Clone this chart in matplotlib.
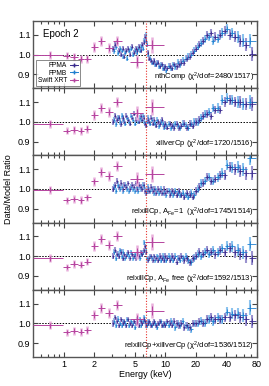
import matplotlib
matplotlib.use("Agg")
import matplotlib.pyplot as plt
from matplotlib.lines import Line2D
from matplotlib.ticker import FixedLocator, NullFormatter, FixedFormatter
import numpy as np

plt.rcParams['font.family'] = ['Liberation Sans', 'DejaVu Sans']
plt.rcParams['mathtext.fontset'] = 'custom'
plt.rcParams['mathtext.rm'] = 'Liberation Sans'
plt.rcParams['mathtext.it'] = 'Liberation Sans:italic'

# ---------------- data ----------------
model_labels = [
    "nthComp (\u03c7$^2$/dof=2480/1517)",
    "xillverCp (\u03c7$^2$/dof=1720/1516)",
    "relxillCp, A$_{\\rm Fe}$=1  (\u03c7$^2$/dof=1745/1514)",
    "relxillCp, A$_{\\rm Fe}$ free (\u03c7$^2$/dof=1592/1513)",
    "relxillCp+xillverCp (\u03c7$^2$/dof=1536/1512)",
]

# Swift XRT bins (keV)
xrt_lo = [0.50, 0.98, 1.15, 1.37, 1.58, 1.85, 2.15, 2.55, 3.05, 4.50, 6.30]
xrt_hi = [0.97, 1.15, 1.37, 1.58, 1.85, 2.15, 2.55, 3.05, 3.70, 6.00, 9.80]
xrt_e = [0.73, 1.07, 1.26, 1.47, 1.70, 1.98, 2.30, 2.80, 3.35, 5.20, 7.40]
xrt_err = [0.02, 0.018, 0.02, 0.02, 0.02, 0.025, 0.025, 0.025, 0.025, 0.035, 0.04]
xrt_ratio = [
    [1.00, 0.995, 0.99, 0.98, 0.98, 1.04, 1.07, 1.033, 1.067, 0.965, 1.05],
    [0.99, 0.955, 0.96, 0.955, 0.965, 1.035, 1.07, 1.05, 1.10, 1.045, 1.075],
    [0.996, 0.943, 0.95, 0.943, 0.957, 1.038, 1.086, 1.065, 1.115, 1.05, 1.077],
    [0.99, 0.945, 0.962, 0.958, 0.973, 1.05, 1.087, 1.058, 1.10, 1.02, 1.072],
    [0.99, 0.955, 0.963, 0.958, 0.965, 1.042, 1.079, 1.053, 1.095, 1.02, 1.065],
]

# NuSTAR FPMA energies (keV)
fpma_e = [3.05, 3.2, 3.35, 3.5, 3.65, 3.8, 3.95, 4.1, 4.3, 4.5, 4.7, 4.9, 5.1, 5.3, 5.5,
          5.7, 5.9, 6.1, 6.3, 6.5, 6.7, 6.95, 7.2, 7.5, 7.8, 8.1, 8.45, 8.8, 9.2, 9.6,
          10.0, 10.5, 11.0, 11.6, 12.2, 12.9, 13.6, 14.4, 15.3, 16.3, 17.4, 18.6,
          20.0, 21.6, 23.4, 25.5, 28.0, 31.0, 34.5, 38.5, 43.0, 48.5, 55.0, 63.0, 72.0]
fpma_err = [0.016, 0.015, 0.015, 0.014, 0.014, 0.014, 0.013, 0.013, 0.013, 0.013, 0.013, 0.013,
            0.013, 0.013, 0.013, 0.013, 0.013, 0.013, 0.013, 0.013, 0.013, 0.013, 0.013, 0.013,
            0.013, 0.013, 0.014, 0.014, 0.014, 0.014,
            0.014, 0.014, 0.015, 0.015, 0.015, 0.016, 0.016, 0.016, 0.017, 0.017, 0.018, 0.018,
            0.019, 0.019, 0.02, 0.02, 0.021, 0.022, 0.022, 0.024, 0.025, 0.027, 0.03, 0.032, 0.035]
fpma_ratio = [
    [1.03, 1.05, 1.06, 1.02, 1.00, 1.03, 0.99, 1.02, 1.03, 1.00, 1.04, 1.01, 1.03, 1.02, 1.04,
     1.02, 1.05, 1.06, 1.09, 1.07, 1.01, 0.98, 0.97, 0.96, 0.97, 0.95, 0.96, 0.94, 0.95, 0.93,
     0.94, 0.93, 0.94, 0.93, 0.95, 0.94, 0.95, 0.96, 0.96, 0.98, 0.99, 1.01,
     1.03, 1.05, 1.07, 1.10, 1.11, 1.09, 1.10, 1.12, 1.10, 1.09, 1.07, 1.05, 1.005],
    [1.00, 1.03, 1.01, 1.02, 0.99, 1.02, 1.00, 1.03, 1.01, 0.99, 1.02, 1.04, 1.01, 1.02, 1.00,
     1.03, 1.01, 1.02, 0.99, 0.98, 1.01, 1.00, 1.02, 0.99, 1.01, 0.98, 1.00, 0.99, 1.01, 0.98,
     0.99, 0.97, 0.99, 0.98, 0.97, 0.99, 0.97, 0.98, 0.99, 0.97, 0.99, 0.98,
     1.00, 1.01, 1.03, 1.04, 1.03, 1.06, 1.06, 1.10, 1.11, 1.10, 1.10, 1.09, 1.09],
    [1.00, 1.02, 1.04, 1.01, 1.03, 1.00, 1.02, 1.01, 1.03, 1.00, 1.02, 1.01, 1.03, 1.00, 1.02,
     1.01, 1.00, 1.02, 0.99, 0.98, 1.00, 0.99, 1.01, 0.99, 1.00, 0.98, 1.00, 0.99, 0.98, 1.00,
     0.98, 0.99, 0.97, 0.99, 0.98, 0.97, 0.99, 0.97, 0.96, 0.98, 0.97, 0.96,
     0.99, 1.01, 1.03, 1.06, 1.04, 1.05, 1.07, 1.07, 1.11, 1.10, 1.09, 1.08, 1.08],
    [1.00, 1.03, 1.01, 1.00, 1.02, 0.99, 1.01, 1.00, 1.02, 0.99, 1.01, 1.00, 0.99, 1.01, 1.00,
     1.02, 1.01, 1.03, 1.05, 1.02, 0.98, 0.99, 1.00, 0.98, 1.00, 0.99, 0.98, 1.00, 0.99, 0.98,
     1.00, 0.99, 0.98, 1.00, 0.99, 0.97, 0.99, 1.00, 0.98, 0.99, 0.97, 0.99,
     1.00, 1.02, 1.01, 1.03, 1.02, 1.01, 1.03, 1.02, 1.04, 1.02, 1.01, 1.00, 0.99],
    [1.00, 1.03, 1.01, 0.99, 1.02, 1.00, 1.01, 0.99, 1.02, 1.00, 0.99, 1.01, 1.00, 1.02, 0.99,
     1.01, 1.00, 1.02, 1.01, 0.99, 1.00, 1.01, 0.99, 1.00, 1.01, 0.99, 1.00, 1.01, 0.99, 1.00,
     0.99, 1.01, 1.00, 0.99, 1.01, 1.00, 0.99, 1.00, 0.98, 0.99, 0.98, 1.00,
     1.00, 1.01, 1.00, 1.02, 1.03, 1.02, 1.02, 1.03, 1.03, 1.04, 1.03, 1.02, 1.01],
]

# NuSTAR FPMB energies (keV)
fpmb_e = [3.12, 3.27, 3.42, 3.57, 3.72, 3.87, 4.02, 4.2, 4.4, 4.6, 4.8, 5.0, 5.2, 5.4, 5.6,
          5.8, 6.0, 6.2, 6.4, 6.6, 6.82, 7.07, 7.35, 7.65, 7.95, 8.27, 8.62, 9.0, 9.4, 9.8,
          10.25, 10.75, 11.3, 11.9, 12.55, 13.25, 14.0, 14.85, 15.8, 16.85, 18.0, 19.3,
          20.8, 22.5, 24.4, 26.7, 29.5, 32.7, 36.5, 40.7, 45.5, 51.5, 58.5, 69.0]
fpmb_err = [0.016, 0.015, 0.015, 0.014, 0.014, 0.014, 0.013, 0.013, 0.013, 0.013, 0.013, 0.013,
            0.013, 0.013, 0.013, 0.013, 0.013, 0.013, 0.013, 0.013, 0.013, 0.013, 0.013, 0.013,
            0.013, 0.013, 0.014, 0.014, 0.014, 0.014,
            0.014, 0.015, 0.015, 0.015, 0.016, 0.016, 0.016, 0.017, 0.017, 0.018, 0.018, 0.019,
            0.019, 0.02, 0.02, 0.021, 0.022, 0.023, 0.024, 0.025, 0.027, 0.03, 0.032, 0.036]
fpmb_ratio = [
    [1.02, 1.04, 1.01, 1.03, 1.02, 0.99, 1.01, 0.98, 1.02, 1.03, 1.00, 1.02, 1.01, 1.03, 1.02,
     1.04, 1.03, 1.07, 1.10, 1.05, 1.00, 0.98, 0.96, 0.97, 0.95, 0.96, 0.94, 0.95, 0.93, 0.94,
     0.92, 0.94, 0.93, 0.95, 0.94, 0.96, 0.95, 0.97, 0.98, 0.99, 1.00, 1.02,
     1.04, 1.06, 1.08, 1.09, 1.07, 1.08, 1.11, 1.13, 1.11, 1.09, 1.07, 1.07],
    [1.01, 0.99, 1.02, 1.00, 1.03, 1.01, 0.99, 1.02, 1.00, 1.03, 1.01, 0.99, 1.02, 1.00, 1.02,
     1.01, 1.03, 1.00, 0.98, 1.00, 1.02, 0.99, 1.01, 1.00, 0.99, 1.01, 0.98, 1.00, 0.99, 0.97,
     0.98, 0.99, 0.97, 0.98, 0.99, 0.98, 0.97, 0.99, 0.98, 0.97, 0.99, 1.00,
     1.00, 1.02, 1.04, 1.05, 1.07, 1.07, 1.11, 1.12, 1.11, 1.10, 1.09, 1.10],
    [1.01, 0.99, 1.02, 1.00, 1.01, 0.99, 1.02, 1.00, 0.99, 1.01, 1.00, 0.99, 1.01, 0.99, 1.01,
     1.00, 1.02, 1.01, 0.98, 0.99, 1.01, 0.99, 1.00, 0.98, 1.00, 0.99, 0.98, 1.00, 0.98, 0.99,
     0.97, 0.99, 0.98, 0.97, 0.99, 0.98, 0.97, 0.98, 0.97, 0.96, 0.98, 0.97,
     1.00, 1.03, 1.04, 1.06, 1.04, 1.06, 1.08, 1.12, 1.11, 1.11, 1.10, 1.155],
    [1.02, 0.99, 1.01, 1.03, 1.00, 1.02, 0.99, 1.01, 1.00, 1.02, 0.99, 1.01, 1.00, 1.02, 0.99,
     1.01, 1.02, 1.07, 1.03, 0.99, 0.98, 1.00, 0.99, 1.00, 0.98, 1.00, 0.99, 0.98, 1.00, 0.99,
     0.98, 1.00, 0.99, 0.98, 1.00, 0.99, 0.98, 0.99, 1.00, 0.98, 0.97, 0.99,
     1.01, 1.00, 1.02, 1.01, 1.03, 1.02, 1.04, 1.05, 1.05, 1.03, 1.02, 1.06],
    [1.01, 0.99, 1.02, 1.00, 0.99, 1.01, 1.00, 1.02, 0.99, 1.01, 1.00, 0.98, 1.01, 1.00, 1.02,
     0.99, 1.01, 1.03, 1.00, 0.99, 1.01, 1.00, 0.99, 1.01, 1.00, 0.98, 1.00, 1.01, 0.99, 1.00,
     1.00, 0.99, 1.01, 1.00, 0.98, 1.00, 0.99, 1.01, 0.99, 0.98, 0.97, 1.00,
     1.00, 1.01, 1.00, 1.02, 1.01, 1.03, 1.02, 1.06, 1.05, 1.05, 1.04, 1.08],
]

fe_line = 6.4
xlim = (0.5, 80)
ylim = (0.83, 1.17)

# ---------------- styling ----------------
C_A, C_A_L = '#3a2a8e', '#9b93cf'
C_B, C_B_L = '#1f7fcf', '#8cc3ee'
C_X, C_X_L = '#b5449f', '#e9b0dc'


def half_widths(e, lo, hi):
    e = np.asarray(e)
    mids = np.sqrt(e[:-1] * e[1:])
    edges = np.concatenate([[lo], mids, [hi]])
    return e - edges[:-1], edges[1:] - e


fig = plt.figure(figsize=(2.69, 3.86), dpi=100)
left, right = 33.3 / 269, 257 / 269
top, bottom = 1 - 21 / 386, 1 - 357 / 386
h = (top - bottom) / 5
axes = []
for i in range(5):
    ax = fig.add_axes([left, top - (i + 1) * h, right - left, h])
    axes.append(ax)

xa_lo, xa_hi = half_widths(fpma_e, 3.0, 79.0)
xb_lo, xb_hi = half_widths(fpmb_e, 3.05, 79.0)
x_lo = np.array(xrt_e) - np.array(xrt_lo)
x_hi = np.array(xrt_hi) - np.array(xrt_e)

for i, ax in enumerate(axes):
    ax.set_xscale('log')
    ax.axhline(1.0, color='k', ls=(0, (1.5, 1.5)), lw=0.7, zorder=1)
    # light error bars
    ax.errorbar(fpmb_e, fpmb_ratio[i], yerr=fpmb_err, fmt='none', ecolor=C_B_L, elinewidth=1.5, zorder=2)
    ax.errorbar(fpma_e, fpma_ratio[i], yerr=fpma_err, fmt='none', ecolor=C_A_L, elinewidth=1.5, zorder=2)
    # dark crosses
    ax.errorbar(fpmb_e, fpmb_ratio[i], xerr=[xb_lo, xb_hi], yerr=np.array(fpmb_err) * 0.5,
                fmt='none', ecolor=C_B, elinewidth=0.6, zorder=3)
    ax.errorbar(fpma_e, fpma_ratio[i], xerr=[xa_lo, xa_hi], yerr=np.array(fpma_err) * 0.5,
                fmt='none', ecolor=C_A, elinewidth=0.6, zorder=3)
    # XRT
    ax.errorbar(xrt_e, xrt_ratio[i], yerr=xrt_err, fmt='none', ecolor=C_X_L, elinewidth=1.8, zorder=4)
    ax.errorbar(xrt_e, xrt_ratio[i], xerr=[x_lo, x_hi], yerr=np.array(xrt_err) * 0.6,
                fmt='none', ecolor=C_X, elinewidth=0.7, zorder=5)
    ax.axvline(fe_line, color='#e8302a', ls=(0, (1, 1.5)), lw=0.8, zorder=6)

    ax.set_xlim(*xlim)
    ax.set_ylim(*ylim)
    ax.xaxis.set_major_locator(FixedLocator([1, 2, 5, 10, 20, 40, 80]))
    ax.xaxis.set_minor_locator(FixedLocator([0.6, 0.7, 0.8, 0.9, 3, 4, 6, 7, 8, 9, 30, 50, 60, 70]))
    ax.xaxis.set_minor_formatter(NullFormatter())
    ax.set_yticks([0.9, 1.0, 1.1])
    ax.set_yticklabels(['0.9', '1.0', '1.1'])
    ax.tick_params(which='both', direction='in', top=True, right=True, labelsize=6.5,
                   width=0.8, color='#444444', pad=2)
    ax.tick_params(which='major', length=3.5)
    ax.tick_params(which='minor', length=2)
    for s in ax.spines.values():
        s.set_color('#555555')
        s.set_linewidth(1.0)
    if i < 4:
        ax.tick_params(axis='x', labelbottom=False)
    else:
        ax.xaxis.set_major_formatter(FixedFormatter(['1', '2', '5', '10', '20', '40', '80']))
    ax.text(0.985, 0.06, model_labels[i], transform=ax.transAxes, ha='right', va='bottom',
            fontsize=5.5, zorder=10)

axes[0].text(0.045, 0.88, 'Epoch 2', transform=axes[0].transAxes, ha='left', va='top', fontsize=7)
handles = [Line2D([], [], color=C_A, marker='+', ms=3, lw=0.7),
           Line2D([], [], color=C_B, marker='+', ms=3, lw=0.7),
           Line2D([], [], color=C_X, marker='+', ms=3, lw=0.7)]
leg = axes[0].legend(handles, ['FPMA', 'FPMB', 'Swift XRT'], loc='lower left',
                     bbox_to_anchor=(0.01, 0.03), fontsize=4.8, markerfirst=False,
                     handlelength=1.2, handletextpad=0.4, labelspacing=0.1,
                     borderpad=0.3, frameon=True, fancybox=False, borderaxespad=0)
leg.get_frame().set_edgecolor('#555555')
leg.get_frame().set_linewidth(0.6)
leg.set_zorder(20)

axes[4].set_xlabel('Energy (keV)', fontsize=6.5, labelpad=1)
fig.text(0.03, (top + bottom) / 2, 'Data/Model Ratio', rotation=90, ha='center', va='center', fontsize=6.5)

fig.savefig('out.png', dpi=100)
